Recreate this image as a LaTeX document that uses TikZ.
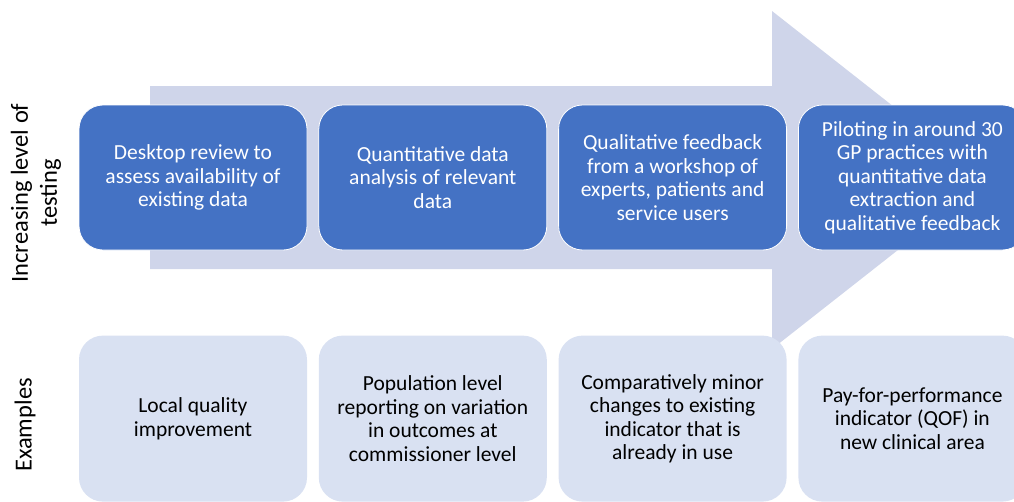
\documentclass[tikz,border=0pt]{standalone}
\usepackage{fontspec}
\setmainfont{Carlito}
\usetikzlibrary{positioning}
\definecolor{stepblue}{HTML}{4472C4}
\definecolor{arrowgrey}{HTML}{CFD5EA}
\definecolor{examplefill}{HTML}{D9E1F2}

\begin{document}
\begin{tikzpicture}[x=1pt,y=-1pt,
    testbox/.style={draw=white, line width=0.8pt, fill=stepblue, text=white,
      rounded corners=24pt, minimum width=228pt, minimum height=145pt,
      align=center, font=\fontsize{21.5}{23.5}\selectfont},
    examplebox/.style={fill=examplefill, text=black,
      rounded corners=24pt, minimum width=228pt, minimum height=166pt,
      align=center, font=\fontsize{21.5}{23.5}\selectfont},
    sidelabel/.style={rotate=90, align=center, font=\fontsize{24.5}{29}\selectfont}]
    \useasboundingbox (0,0) rectangle (1014,501);
    \clip (0,0) rectangle (1014,501);

    % big background arrow
    \fill[arrowgrey] (150,86) -- (772,86) -- (772,11) -- (987,180)
        -- (772,349) -- (772,269) -- (150,269) -- cycle;

    % row labels
    \node[sidelabel] (testlabel) at (36,193) {Increasing level of\\testing};
    \node[sidelabel] (examplelabel) at (25,425) {Examples};

    % testing steps
    \node[testbox] (test1) at (193,177.5) {Desktop review to\\assess availability of\\existing data};
    \node[testbox, right=11pt of test1] (test2) {Quantitative data\\analysis of relevant\\data};
    \node[testbox, right=11pt of test2] (test3) {Qualitative feedback\\from a workshop of\\experts, patients and\\service users};
    \node[testbox, right=11pt of test3] (test4) {Piloting in around 30\\GP practices with\\quantitative data\\extraction and\\qualitative feedback};

    % examples
    \node[examplebox, below=85pt of test1] (example1) {Local quality\\improvement};
    \node[examplebox, below=85pt of test2] (example2) {Population level\\reporting on variation\\in outcomes at\\commissioner level};
    \node[examplebox, below=85pt of test3] (example3) {Comparatively minor\\changes to existing\\indicator that is\\already in use};
    \node[examplebox, below=85pt of test4] (example4) {Pay-for-performance\\indicator (QOF) in\\new clinical area};
\end{tikzpicture}
\end{document}
